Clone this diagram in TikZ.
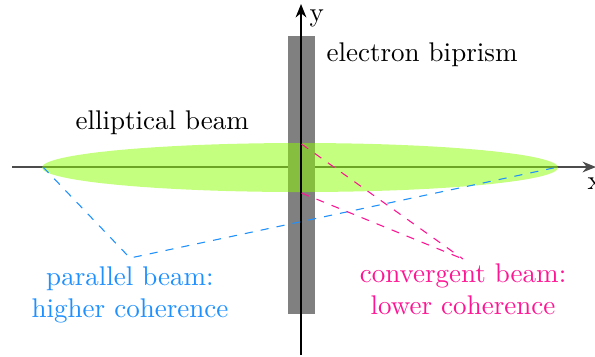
\documentclass[tikz,border=0pt]{standalone}
\usetikzlibrary{arrows.meta}
\definecolor{beamgreen}{RGB}{140,255,0}
\definecolor{pblue}{RGB}{30,144,255}
\definecolor{cpink}{RGB}{255,20,147}
\tikzset{
  axis/.style={-{Stealth[length=5pt,width=4pt]}, line width=0.5pt},
  lbl/.style={inner sep=0pt, anchor=base west},
  cline/.style={inner sep=0pt, anchor=base},
  pdash/.style={dashed, pblue, line width=0.4pt},
  cdash/.style={dashed, cpink, line width=0.4pt}
}
\begin{document}
\begin{tikzpicture}[x=0.37pt,y=-0.37pt]
\useasboundingbox (0,0) rectangle (595,356);
% x axis (under beam)
\draw[axis, black!70] (12,167) -- (596,167);
\node[lbl] (xl) at (587,189) {x};
% biprism
\fill[black!50] (288,36) rectangle (315,314);
% elliptical beam
\fill[beamgreen, opacity=0.5] (300,167.5) ellipse [x radius=258, y radius=24.5];
% y axis
\draw[axis] (301,355) -- (301,4);
\node[lbl] (yl) at (309,21) {y};
% labels
\node[lbl] (bip) at (326,61.5) {electron biprism};
\node[lbl] (ell) at (75,129) {elliptical beam};
\node[cline, text=pblue] (par1) at (130,285) {parallel beam:};
\node[cline, text=pblue] (par2) at (130,317) {higher coherence};
\node[cline, text=cpink] (con1) at (463,282) {convergent beam:};
\node[cline, text=cpink] (con2) at (463,314) {lower coherence};
% connector points
\coordinate (bl) at (43,167);
\coordinate (br) at (558,167);
\coordinate (bv) at (130,258);
\coordinate (ct) at (301.5,144);
\coordinate (cb) at (301.5,193);
\coordinate (cv) at (463,259);
\draw[pdash] (bl) -- (bv) -- (br);
\draw[cdash] (ct) -- (cv);
\draw[cdash] (cb) -- (cv);
\end{tikzpicture}
\end{document}
